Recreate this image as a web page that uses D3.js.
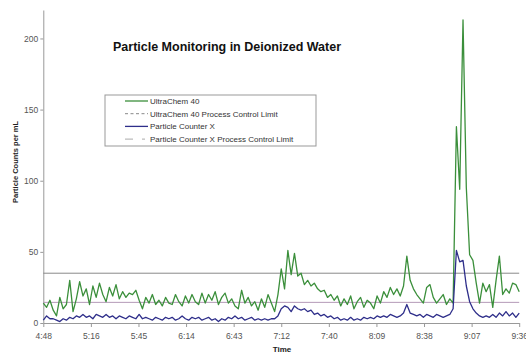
<!DOCTYPE html>
<html>
<head>
<meta charset="utf-8">
<script src="https://cdn.jsdelivr.net/npm/d3@7"></script>
<style>
  body { margin: 0; background: #fff; }
  svg { font-family: "Liberation Sans", Arial, sans-serif; display: block; }
</style>
</head>
<body>
<div id="chart"></div>
<script>
const WIDTH = 526, HEIGHT = 353;
const MARGIN = { left: 43.3, right: 6.8, top: 10, bottom: 30 };
const INNER_WIDTH = WIDTH - MARGIN.left - MARGIN.right;
const INNER_HEIGHT = HEIGHT - MARGIN.top - MARGIN.bottom;

// sampling: one reading every 2 minutes starting 4:48
const STEP_MIN = 2;
const TOTAL_MIN = 288;

const xTickLabels = ["4:48", "5:16", "5:45", "6:14", "6:43", "7:12", "7:40", "8:09", "8:38", "9:07", "9:36"];
const yTicks = [0, 50, 100, 150, 200];

const ultraChem = [14, 11, 16, 9, 5, 18, 10, 13, 30, 8, 17, 29, 19, 24, 13, 26, 18, 28, 20, 15,
  25, 19, 27, 17, 22, 18, 21, 20, 23, 16, 10, 18, 14, 20, 13, 16, 12, 18, 14, 13,
  20, 15, 12, 19, 14, 20, 15, 13, 21, 14, 20, 16, 22, 13, 18, 21, 14, 17, 12, 10,
  23, 14, 18, 12, 15, 9, 17, 11, 20, 14, 8, 20, 38, 24, 51, 34, 49, 33, 35, 27,
  30, 26, 28, 24, 22, 23, 18, 20, 16, 19, 12, 17, 13, 19, 10, 15, 18, 11, 16, 14,
  10, 19, 14, 22, 18, 25, 20, 24, 19, 26, 47, 30, 24, 20, 17, 14, 25, 27, 18, 14,
  17, 20, 13, 17, 14, 138, 94, 213, 95, 48, 44, 28, 14, 28, 22, 27, 11, 30, 47, 20,
  24, 21, 28, 27, 22];

const counterX = [2, 5, 3, 3, 2, 1, 3, 2, 4, 3, 5, 4, 6, 4, 5, 3, 6, 5, 4, 6,
  4, 5, 3, 5, 4, 3, 5, 4, 3, 6, 3, 4, 3, 2, 4, 3, 2, 4, 3, 4,
  2, 3, 5, 3, 2, 4, 3, 4, 2, 3, 4, 2, 3, 1, 3, 2, 4, 3, 5, 3,
  4, 2, 3, 4, 2, 3, 2, 3, 2, 3, 3, 5, 10, 12, 11, 8, 12, 10, 9, 10,
  8, 9, 6, 7, 5, 6, 4, 5, 3, 4, 2, 3, 2, 4, 2, 3, 2, 4, 3, 4,
  3, 5, 4, 5, 4, 6, 5, 4, 5, 7, 13, 7, 6, 5, 6, 4, 6, 5, 4, 6,
  5, 4, 5, 6, 10, 51, 43, 44, 26, 15, 10, 7, 5, 4, 5, 4, 6, 4, 7, 5,
  8, 5, 7, 4, 7];

const ultraChemLimit = 35;
const counterXLimit = 14.5;

const legendItems = [
  { name: "UltraChem 40", color: "#3b8f3b", dash: null, width: 1.3 },
  { name: "UltraChem 40 Process Control Limit", color: "#888", dash: "3,2.5", width: 1 },
  { name: "Particle Counter X", color: "#2e2e8a", dash: null, width: 1.3 },
  { name: "Particle Counter X Process Control Limit", color: "#aaa", dash: "8,9,3", width: 1 }
];

const svg = d3.select("#chart")
  .append("svg")
  .attr("width", WIDTH)
  .attr("height", HEIGHT)
  .append("g")
  .attr("transform", `translate(${MARGIN.left}, ${MARGIN.top})`);

const x = d3.scaleLinear().domain([0, TOTAL_MIN]).range([0, INNER_WIDTH]);
const y = d3.scaleLinear().domain([0, 220]).range([INNER_HEIGHT, 0]);

// Axes
const xAxis = svg.append("g")
  .attr("transform", `translate(0, ${INNER_HEIGHT})`)
  .call(d3.axisBottom(x)
    .tickValues(xTickLabels.map((d, i) => i * TOTAL_MIN / (xTickLabels.length - 1)))
    .tickFormat((d, i) => xTickLabels[i])
    .tickSize(4).tickSizeOuter(0));

const yAxis = svg.append("g")
  .call(d3.axisLeft(y).tickValues(yTicks).tickSize(3).tickSizeOuter(0));

[xAxis, yAxis].forEach(a => {
  a.select(".domain").attr("stroke", "#999");
  a.selectAll(".tick line").attr("stroke", "#999");
  a.selectAll("text").attr("fill", "#555").style("font-size", "8.5px");
});
xAxis.selectAll("text").attr("dy", "1.05em");
yAxis.selectAll("text").attr("dy", "0.35em").attr("x", -5);

// Control limits
svg.append("line")
  .attr("x1", 0).attr("x2", INNER_WIDTH)
  .attr("y1", y(ultraChemLimit)).attr("y2", y(ultraChemLimit))
  .attr("stroke", "#8a8a8a").attr("stroke-width", 1);

svg.append("line")
  .attr("x1", 0).attr("x2", INNER_WIDTH)
  .attr("y1", y(counterXLimit)).attr("y2", y(counterXLimit))
  .attr("stroke", "#b49ab8").attr("stroke-width", 1);

// Series
const line = d3.line()
  .x((d, i) => x(i * STEP_MIN))
  .y(d => y(d));

svg.append("path")
  .datum(ultraChem)
  .attr("fill", "none")
  .attr("stroke", legendItems[0].color)
  .attr("stroke-width", 1.3)
  .attr("stroke-linejoin", "round")
  .attr("d", line);

svg.append("path")
  .datum(counterX)
  .attr("fill", "none")
  .attr("stroke", legendItems[2].color)
  .attr("stroke-width", 1.3)
  .attr("stroke-linejoin", "round")
  .attr("d", line);

// Title
svg.append("text")
  .attr("x", 227 - MARGIN.left)
  .attr("y", 51 - MARGIN.top)
  .attr("text-anchor", "middle")
  .style("font-size", "12.5px")
  .style("font-weight", "bold")
  .attr("fill", "#111")
  .text("Particle Monitoring in Deionized Water");

// Legend
const legend = svg.append("g")
  .attr("transform", `translate(${105 - MARGIN.left}, ${95 - MARGIN.top})`);

legend.append("rect")
  .attr("width", 211).attr("height", 51)
  .attr("fill", "#fff")
  .attr("stroke", "#999");

const rows = legend.selectAll("g.item")
  .data(legendItems)
  .join("g")
  .attr("class", "item")
  .attr("transform", (d, i) => `translate(0, ${6 + i * 12.7})`);

rows.append("line")
  .attr("x1", 20).attr("x2", 43)
  .attr("stroke", d => d.color)
  .attr("stroke-width", d => d.width)
  .attr("stroke-dasharray", d => d.dash);

rows.append("text")
  .attr("x", 45)
  .attr("dy", "0.35em")
  .style("font-size", "8px")
  .attr("fill", "#333")
  .text(d => d.name);

// Axis labels (both partly clipped by the frame, as in the original)
svg.append("text")
  .attr("x", 282 - MARGIN.left)
  .attr("y", 352 - MARGIN.top)
  .attr("text-anchor", "middle")
  .style("font-size", "8px")
  .style("font-weight", "bold")
  .attr("fill", "#222")
  .text("Time");

svg.append("text")
  .attr("transform", "rotate(-90)")
  .attr("x", -(162 - MARGIN.top))
  .attr("y", 18 - MARGIN.left)
  .attr("text-anchor", "middle")
  .style("font-size", "7.5px")
  .style("font-weight", "bold")
  .attr("fill", "#222")
  .text("Particle Counts per mL");
</script>
</body>
</html>
